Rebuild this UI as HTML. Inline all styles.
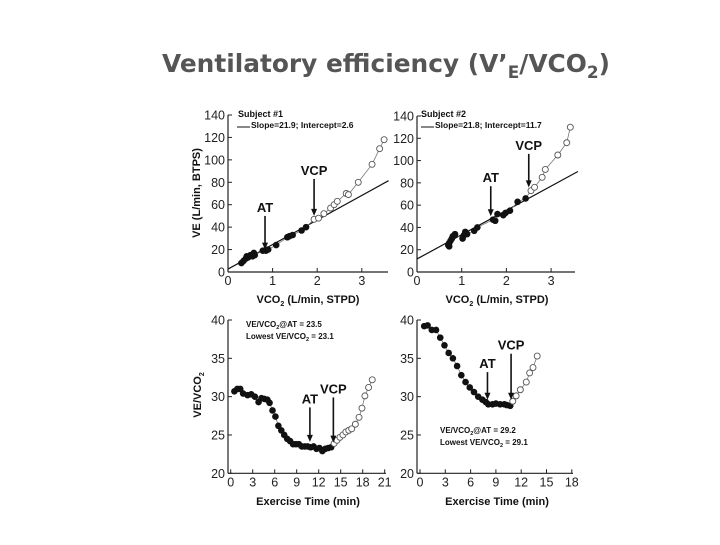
<!DOCTYPE html>
<html><head><meta charset="utf-8"><style>
body{margin:0;background:#fff;width:720px;height:540px;overflow:hidden}
svg text{font-family:"Liberation Sans",Arial,sans-serif}
</style></head><body>
<svg id="chart" width="720" height="540" xmlns="http://www.w3.org/2000/svg">
<text x="162" y="72" textLength="448" lengthAdjust="spacingAndGlyphs" style="font-family:'DejaVu Sans',sans-serif;font-weight:bold;font-size:25px;fill:#555">Ventilatory efficiency (V’<tspan font-size="17" dy="6">E</tspan><tspan dy="-6">/VCO</tspan><tspan font-size="17" dy="6">2</tspan><tspan dy="-6">)</tspan></text>
</svg>
<script>
// Panel 1 data (VE vs VCO2, subject 1)
const p1FilledX=[0.3,0.35,0.4,0.42,0.45,0.5,0.55,0.58,0.6,0.78,0.85,0.9,1.08,1.33,1.38,1.45,1.65,1.75];
const p1FilledY=[8,10,12,14,13,15,14,17,15,19,19,20,24,31,32,33,37,40];
const p1OpenX=[1.93,2.03,2.15,2.3,2.38,2.45,2.65,2.7,2.92,3.23,3.4,3.5];
const p1OpenY=[47,48,52,57,60,63,70,69,80,96,110,118];
const p1Slope=21.9, p1Intercept=2.6;
// Panel 2 data (subject 2)
const p2FilledX=[0.7,0.72,0.72,0.75,0.78,0.8,0.85,1.02,1.05,1.08,1.12,1.28,1.35,1.7,1.75,1.8,1.93,1.98,2.08,2.25,2.43];
const p2FilledY=[24,23,26,28,30,32,34,30,33,36,34,37,40,47,46,52,51,53,55,63,66];
const p2OpenX=[2.55,2.63,2.8,2.87,3.15,3.35,3.43];
const p2OpenY=[73,76,85,92,105,116,130];
const p2Slope=21.8, p2Intercept=11.7;
// Panel 3 data (VE/VCO2 vs time, subject 1)
const p3FilledT=[0.5,0.9,1.3,1.7,2.3,2.8,3.3,3.8,4.2,4.6,5.0,5.3,5.7,6.1,6.5,6.9,7.3,7.7,8.1,8.5,8.9,9.3,9.7,10.1,10.5,10.9,11.3,11.7,12.1,12.5,12.9,13.3,13.7];
const p3FilledV=[30.7,31.0,31.0,30.4,30.2,30.3,30.0,29.3,29.8,29.7,29.6,29.2,28.2,27.4,26.2,25.6,25.0,24.5,24.2,23.8,23.8,23.8,23.5,23.5,23.5,23.4,23.5,23.2,23.3,22.9,23.2,23.3,23.4];
const p3OpenT=[14.1,14.5,14.9,15.3,15.7,16.1,16.5,17.0,17.5,17.9,18.3,18.8,19.3];
const p3OpenV=[23.9,24.3,24.7,25.0,25.4,25.6,25.8,26.4,27.3,28.5,30.1,31.2,32.2];
// Panel 4 data (subject 2)
const p4FilledT=[0.5,0.9,1.4,1.9,2.4,2.9,3.4,3.9,4.4,4.9,5.4,5.9,6.4,6.9,7.4,7.8,8.1,8.6,9.0,9.5,10.0,10.3,10.7];
const p4FilledV=[39.2,39.3,38.7,38.7,37.7,36.7,35.7,35.0,34.0,32.8,31.9,31.2,30.6,30.0,29.6,29.3,29.0,29.0,29.1,29.0,29.0,28.9,28.8];
const p4OpenT=[11.0,11.4,11.9,12.6,13.0,13.4,13.9];
const p4OpenV=[29.4,30.1,30.9,31.9,33.1,33.8,35.3];
const veTicks=[0,20,40,60,80,100,120,140];
const vco2Ticks=[0,1,2,3];
const ratioTicks=[20,25,30,35,40];
const time1Ticks=[0,3,6,9,12,15,18,21];
const time2Ticks=[0,3,6,9,12,15,18];

const svg=document.getElementById('chart');
const NS='http://www.w3.org/2000/svg';
function mk(tag,attrs,parent){const e=document.createElementNS(NS,tag);for(const k in attrs)e.setAttribute(k,attrs[k]);(parent||svg).appendChild(e);return e;}
function txt(s,attrs,parent){const e=mk('text',attrs,parent);e.textContent=s;return e;}

function panel(cfg){
  const g=mk('g',{});
  
  
  const sx=v=>cfg.x0+(v-cfg.xmin)*cfg.xs;
  const sy=v=>cfg.y0-(v-cfg.ymin)*cfg.ys;
  const ya=mk('line',{x1:cfg.axX,y1:cfg.y0,x2:cfg.axX,y2:sy(cfg.ymax),stroke:'#222','stroke-width':1.2},g);
  
  
  const xa=mk('line',{x1:cfg.axX,y1:cfg.y0,x2:cfg.xEnd,y2:cfg.y0,stroke:'#222','stroke-width':1.2},g);
  
  
  cfg.yt.forEach(v=>{
    mk('line',{x1:cfg.axX,y1:sy(v),x2:cfg.axX+4,y2:sy(v),stroke:'#222'},g);
    const t=txt(String(v),{x:cfg.axX-3,y:sy(v)+4.5,'font-size':12.5,'text-anchor':'end',fill:'#222'},g);
    
    
  });
  cfg.xt.forEach(v=>{
    mk('line',{x1:sx(v),y1:cfg.y0,x2:sx(v),y2:cfg.y0-4,stroke:'#222'},g);
    const t=txt(String(v),{x:sx(v),y:cfg.y0+13,'font-size':12.5,'text-anchor':'middle',fill:'#222'},g);
    
    
  });
  if(cfg.slope!==undefined){
    const l=mk('line',{x1:sx(0),y1:sy(cfg.intercept),x2:sx(3.6),y2:sy(cfg.intercept+cfg.slope*3.6),stroke:'#111','stroke-width':1.2},g);
    
    
  }
  const all=cfg.fx.map((v,i)=>[v,cfg.fy[i]]).concat(cfg.ox.map((v,i)=>[v,cfg.oy[i]]));
  const pl=mk('polyline',{points:all.map(p=>sx(p[0])+','+sy(p[1])).join(' '),fill:'none',stroke:'#777','stroke-width':0.8},g);
  
  
  cfg.fx.forEach((v,i)=>{
    const c=mk('circle',{cx:sx(v),cy:sy(cfg.fy[i]),r:3.3,fill:'#111'},g);
    
    
  });
  cfg.ox.forEach((v,i)=>{
    const c=mk('circle',{cx:sx(v),cy:sy(cfg.oy[i]),r:3,fill:'#fff',stroke:'#555','stroke-width':0.9},g);
    
    
  });
  cfg.arrows.forEach(a=>{
    const x=sx(a.x),ytop=sy(a.from),ybot=sy(a.to);
    const ln=mk('line',{x1:x,y1:ytop,x2:x,y2:ybot-5,stroke:'#111','stroke-width':1.6},g);
    
    
    mk('polygon',{points:`${x-3},${ybot-7} ${x+3},${ybot-7} ${x},${ybot}`,fill:'#111'},g);
    const t=txt(a.label,{x:x,y:ytop-4,'font-size':13,'font-weight':'bold','text-anchor':'middle',fill:'#111'},g);
    
    
  });
  return g;
}

panel({name:'panel-subject1-ve-vco2',x0:228,xmin:0,xs:44.6,y0:272,ymin:0,ymax:140,ys:157/140,axX:228,xEnd:388,
  yt:veTicks,xt:vco2Ticks,fx:p1FilledX,fy:p1FilledY,ox:p1OpenX,oy:p1OpenY,slope:p1Slope,intercept:p1Intercept,
  arrows:[{x:0.83,from:50,to:20,label:'AT'},{x:1.93,from:83,to:50,label:'VCP'}]});
panel({name:'panel-subject2-ve-vco2',x0:417,xmin:0,xs:44.7,y0:272,ymin:0,ymax:140,ys:156/140,axX:417,xEnd:575,
  yt:veTicks,xt:vco2Ticks,fx:p2FilledX,fy:p2FilledY,ox:p2OpenX,oy:p2OpenY,slope:p2Slope,intercept:p2Intercept,
  arrows:[{x:1.65,from:77,to:50,label:'AT'},{x:2.5,from:106,to:76,label:'VCP'}]});
panel({name:'panel-subject1-ratio-time',x0:230.7,xmin:0,xs:22/3,y0:473.3,ymin:20,ymax:40,ys:153.3/20,axX:228,xEnd:386,
  yt:ratioTicks,xt:time1Ticks,fx:p3FilledT,fy:p3FilledV,ox:p3OpenT,oy:p3OpenV,
  arrows:[{x:10.8,from:28.6,to:24.1,label:'AT'},{x:14,from:29.9,to:24,label:'VCP'}]});
panel({name:'panel-subject2-ratio-time',x0:420,xmin:0,xs:25.3/3,y0:473.3,ymin:20,ymax:40,ys:153.3/20,axX:417,xEnd:573,
  yt:ratioTicks,xt:time2Ticks,fx:p4FilledT,fy:p4FilledV,ox:p4OpenT,oy:p4OpenV,
  arrows:[{x:8.0,from:33.2,to:29.6,label:'AT'},{x:10.8,from:35.6,to:29.6,label:'VCP'}]});
</script>
<svg style="position:absolute;left:0;top:0" width="720" height="540" xmlns="http://www.w3.org/2000/svg">
<g font-family="Liberation Sans, Arial, sans-serif" font-weight="bold" fill="#111">
<text x="238" y="117" font-size="9">Subject #1</text>
<line x1="237" y1="127" x2="250" y2="127" stroke="#111"/>
<text x="251" y="128" font-size="8.5">Slope=21.9; Intercept=2.6</text>
<text x="421" y="117" font-size="9">Subject #2</text>
<line x1="421" y1="127" x2="434" y2="127" stroke="#111"/>
<text x="435" y="128" font-size="8.5">Slope=21.8; Intercept=11.7</text>
<text x="308" y="303" font-size="11" text-anchor="middle">VCO<tspan font-size="7" dy="3">2</tspan><tspan dy="-3"> (L/min, STPD)</tspan></text>
<text x="497" y="303" font-size="11" text-anchor="middle">VCO<tspan font-size="7" dy="3">2</tspan><tspan dy="-3"> (L/min, STPD)</tspan></text>
<text transform="translate(200,193) rotate(-90)" font-size="11" text-anchor="middle">VE (L/min, BTPS)</text>
<text transform="translate(201,395) rotate(-90)" font-size="11" text-anchor="middle">VE/VCO<tspan font-size="7" dy="3">2</tspan></text>
<text x="246" y="327" font-size="8">VE/VCO<tspan font-size="5.5" dy="2">2</tspan><tspan dy="-2">@AT = 23.5</tspan></text>
<text x="246" y="339" font-size="8">Lowest VE/VCO<tspan font-size="5.5" dy="2">2</tspan><tspan dy="-2"> = 23.1</tspan></text>
<text x="440" y="433" font-size="8">VE/VCO<tspan font-size="5.5" dy="2">2</tspan><tspan dy="-2">@AT = 29.2</tspan></text>
<text x="440" y="445" font-size="8">Lowest VE/VCO<tspan font-size="5.5" dy="2">2</tspan><tspan dy="-2"> = 29.1</tspan></text>
<text x="308" y="505" font-size="11" text-anchor="middle">Exercise Time (min)</text>
<text x="497" y="505" font-size="11" text-anchor="middle">Exercise Time (min)</text>
</g>
</svg>
</body></html>
